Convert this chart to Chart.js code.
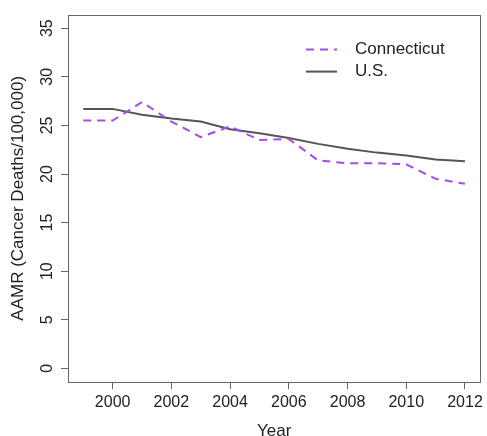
<!DOCTYPE html>
<html>
<head>
<meta charset="utf-8">
<script src="https://cdn.jsdelivr.net/npm/chart.js@4/dist/chart.umd.min.js"></script>
<style>
html,body{margin:0;padding:0;background:#fff;}
#wrap{width:487px;height:436px;}
</style>
</head>
<body>
<div id="wrap"><canvas id="c" width="487" height="436"></canvas></div>
<script>
const years = [1999, 2000, 2001, 2002, 2003, 2004, 2005, 2006, 2007, 2008, 2009, 2010, 2011, 2012];
const connecticut = [25.5, 25.5, 27.4, 25.4, 23.8, 24.9, 23.5, 23.6, 21.4, 21.1, 21.1, 21.0, 19.5, 19.0];
const us = [26.7, 26.7, 26.1, 25.7, 25.4, 24.6, 24.2, 23.7, 23.1, 22.6, 22.2, 21.9, 21.5, 21.3];
const xTicks = [2000, 2002, 2004, 2006, 2008, 2010, 2012];
const yTicks = [0, 5, 10, 15, 20, 25, 30, 35];
const seriesNames = ['Connecticut', 'U.S.'];

const FONT = '"Liberation Sans", Arial, Helvetica, sans-serif';
const AXIS = '#666';
const TEXT = '#222';

const boxPlugin = {
  id: 'box',
  afterDraw(chart) {
    const {ctx, chartArea: a} = chart;
    ctx.save();
    ctx.strokeStyle = AXIS;
    ctx.lineWidth = 1;
    ctx.strokeRect(Math.round(a.left) + 0.5, Math.round(a.top) + 0.5, Math.round(a.right - a.left), Math.round(a.bottom - a.top));
    ctx.restore();
  }
};

const legendPlugin = {
  id: 'rlegend',
  afterDraw(chart) {
    const {ctx, chartArea: a} = chart;
    ctx.save();
    ctx.font = '17px ' + FONT;
    ctx.textBaseline = 'middle';
    ctx.textAlign = 'left';
    chart.data.datasets.forEach((ds, i) => {
      const y = a.top + 35 + i * 22;
      const x0 = a.left + 238;
      ctx.beginPath();
      ctx.strokeStyle = ds.borderColor;
      ctx.lineWidth = ds.borderWidth;
      ctx.setLineDash(ds.borderDash || []);
      ctx.moveTo(x0, y);
      ctx.lineTo(x0 + 31, y);
      ctx.stroke();
      ctx.setLineDash([]);
      ctx.fillStyle = TEXT;
      ctx.fillText(ds.label, x0 + 49, y);
    });
    ctx.restore();
  }
};

new Chart(document.getElementById('c'), {
  type: 'line',
  data: {
    datasets: [
      {
        label: seriesNames[0],
        data: years.map((y, i) => ({x: y, y: connecticut[i]})),
        borderColor: '#A64BEA',
        borderWidth: 2,
        borderDash: [8, 6],
        pointRadius: 0,
        tension: 0,
        fill: false
      },
      {
        label: seriesNames[1],
        data: years.map((y, i) => ({x: y, y: us[i]})),
        borderColor: '#555555',
        borderWidth: 2,
        pointRadius: 0,
        tension: 0,
        fill: false
      }
    ]
  },
  options: {
    responsive: false,
    animation: false,
    devicePixelRatio: 1,
    layout: {padding: {top: 13, right: 6, left: 0, bottom: 0}},
    plugins: {legend: {display: false}, tooltip: {enabled: false}},
    scales: {
      x: {
        type: 'linear',
        min: 1999 - 0.52,
        max: 2012 + 0.52,
        afterBuildTicks: s => { s.ticks = xTicks.map(v => ({value: v})); },
        afterFit: s => { s.height = 54; },
        grid: {display: true, drawOnChartArea: false, drawTicks: true, tickLength: 7, color: AXIS},
        border: {display: false},
        ticks: {
          maxRotation: 0, minRotation: 0, padding: 4, color: TEXT,
          font: {family: FONT, size: 16},
          callback: v => String(v)
        },
        title: {display: true, text: 'Year', color: TEXT, font: {family: FONT, size: 17}, padding: {top: 0, bottom: -6}}
      },
      y: {
        type: 'linear',
        min: -1.4,
        max: 36.4,
        afterBuildTicks: s => { s.ticks = yTicks.map(v => ({value: v})); },
        afterFit: s => { s.width = 68; },
        grid: {display: true, drawOnChartArea: false, drawTicks: true, tickLength: 7, color: AXIS},
        border: {display: false},
        ticks: {
          minRotation: 90, maxRotation: 90, crossAlign: 'center', padding: 5, color: TEXT,
          font: {family: FONT, size: 16},
          callback: v => String(v)
        },
        title: {display: true, text: 'AAMR (Cancer Deaths/100,000)', color: TEXT, font: {family: FONT, size: 17}, padding: {top: 8, bottom: 0}}
      }
    }
  },
  plugins: [boxPlugin, legendPlugin]
});
</script>
</body>
</html>
